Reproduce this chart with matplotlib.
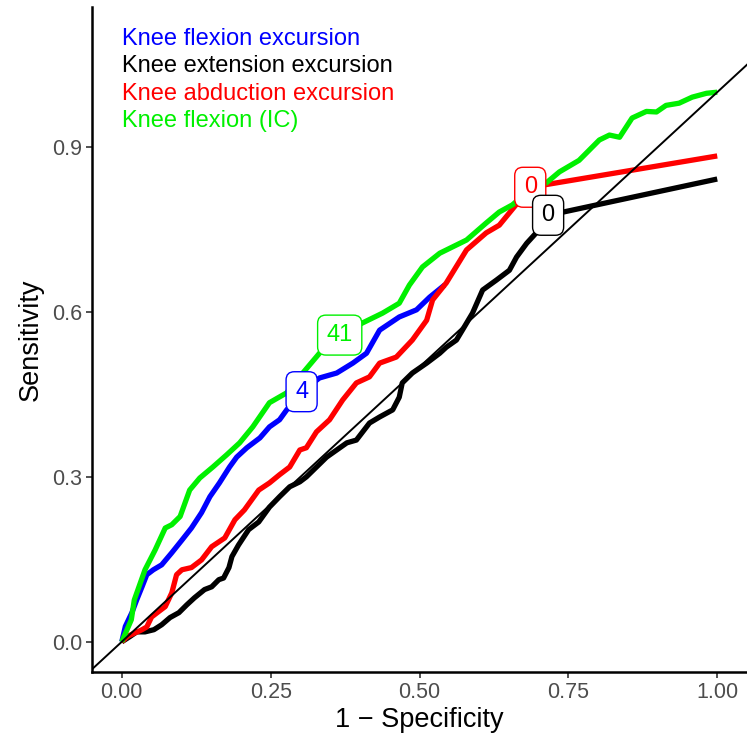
import numpy as np
import matplotlib.pyplot as plt

# ---------------------------------------------------------
# Plot configuration
# ---------------------------------------------------------
plt.rcParams.update({
    'font.family': ['Liberation Sans', 'DejaVu Sans'],
    'axes.linewidth': 1.8,
})

# ROC curves (1 - specificity, sensitivity)
flex_exc_x = [0.0, 0.006, 0.017, 0.025, 0.034, 0.042, 0.053, 0.067, 0.084, 0.101, 0.117,
              0.134, 0.148, 0.164, 0.181, 0.193, 0.210, 0.232, 0.248, 0.265, 0.277, 0.302,
              0.332, 0.361, 0.388, 0.411, 0.433, 0.466, 0.495, 0.517, 0.542]
flex_exc_y = [0.0, 0.028, 0.053, 0.076, 0.100, 0.122, 0.131, 0.140, 0.162, 0.185, 0.207,
              0.235, 0.264, 0.289, 0.318, 0.336, 0.353, 0.371, 0.391, 0.404, 0.422, 0.455,
              0.480, 0.489, 0.507, 0.525, 0.567, 0.591, 0.604, 0.627, 0.649]

ext_exc_x = [0.0, 0.013, 0.025, 0.039, 0.054, 0.067, 0.081, 0.096, 0.109, 0.122, 0.139,
             0.151, 0.163, 0.171, 0.180, 0.185, 0.196, 0.213, 0.230, 0.248, 0.265, 0.282,
             0.299, 0.310, 0.327, 0.344, 0.361, 0.378, 0.394, 0.416, 0.433, 0.455, 0.466,
             0.471, 0.488, 0.512, 0.534, 0.545, 0.562, 0.572, 0.589, 0.606, 0.629, 0.651,
             0.663, 0.680, 0.696, 0.716, 1.0]
ext_exc_y = [0.0, 0.009, 0.018, 0.018, 0.022, 0.031, 0.044, 0.053, 0.067, 0.080, 0.095,
             0.100, 0.113, 0.116, 0.135, 0.155, 0.176, 0.204, 0.218, 0.245, 0.264, 0.282,
             0.291, 0.300, 0.318, 0.336, 0.349, 0.362, 0.367, 0.398, 0.409, 0.422, 0.445,
             0.471, 0.489, 0.507, 0.525, 0.536, 0.549, 0.567, 0.598, 0.640, 0.658, 0.676,
             0.700, 0.725, 0.744, 0.776, 0.842]

abd_exc_x = [0.0, 0.01, 0.022, 0.034, 0.042, 0.050, 0.062, 0.073, 0.084, 0.092, 0.101,
             0.117, 0.134, 0.151, 0.173, 0.190, 0.206, 0.230, 0.248, 0.265, 0.282, 0.299,
             0.310, 0.327, 0.349, 0.371, 0.394, 0.416, 0.433, 0.461, 0.488, 0.512, 0.522,
             0.545, 0.579, 0.612, 0.634, 0.659, 0.686, 1.0]
abd_exc_y = [0.0, 0.01, 0.016, 0.022, 0.027, 0.045, 0.055, 0.064, 0.089, 0.122, 0.131,
             0.135, 0.149, 0.173, 0.189, 0.222, 0.240, 0.276, 0.289, 0.304, 0.318, 0.349,
             0.353, 0.382, 0.404, 0.440, 0.471, 0.482, 0.507, 0.518, 0.549, 0.585, 0.622,
             0.653, 0.713, 0.744, 0.758, 0.791, 0.827, 0.884]

flex_ic_x = [0.0, 0.016, 0.021, 0.039, 0.056, 0.073, 0.084, 0.098, 0.114, 0.131, 0.153,
             0.176, 0.198, 0.220, 0.248, 0.277, 0.304, 0.332, 0.366, 0.404, 0.438, 0.466,
             0.483, 0.505, 0.534, 0.579, 0.612, 0.634, 0.656, 0.685, 0.713, 0.735, 0.768,
             0.802, 0.819, 0.836, 0.857, 0.881, 0.898, 0.914, 0.936, 0.958, 0.982, 1.0]
flex_ic_y = [0.0, 0.040, 0.076, 0.131, 0.167, 0.207, 0.213, 0.228, 0.276, 0.298, 0.318,
             0.340, 0.362, 0.391, 0.435, 0.453, 0.489, 0.525, 0.558, 0.580, 0.598, 0.616,
             0.649, 0.682, 0.707, 0.731, 0.762, 0.782, 0.795, 0.822, 0.835, 0.855, 0.876,
             0.913, 0.922, 0.918, 0.953, 0.965, 0.964, 0.976, 0.980, 0.991, 0.998, 1.0]

names = ['Knee flexion excursion', 'Knee extension excursion',
         'Knee abduction excursion', 'Knee flexion (IC)']
colors = ['#0000FF', '#000000', '#FF0000', '#00F000']

# cutoff labels (position on curve, text)
cut_x = [0.302, 0.716, 0.686, 0.366]
cut_y = [0.455, 0.776, 0.827, 0.558]
cut_txt = ['4', '0', '0', '41']

# ---------------------------------------------------------
# Plotting
# ---------------------------------------------------------
fig = plt.figure(figsize=(7.47, 7.47), dpi=100)
ax = fig.add_axes([92 / 747, 75 / 747, 655 / 747, 665 / 747])

curves = [(flex_exc_x, flex_exc_y), (ext_exc_x, ext_exc_y),
          (abd_exc_x, abd_exc_y), (flex_ic_x, flex_ic_y)]
for (cx, cy), col in zip(curves, colors):
    ax.plot(cx, cy, color=col, lw=3.8, solid_joinstyle='round',
            solid_capstyle='butt', zorder=2)

# reference diagonal
ax.axline((0, 0), slope=1, color='black', lw=1.4, zorder=3)

# cutoff labels (red before black so black sits on top)
for i in [0, 2, 1, 3]:
    ax.text(cut_x[i], cut_y[i], cut_txt[i], color=colors[i], fontsize=17,
            ha='center', va='center', zorder=5,
            bbox=dict(boxstyle='round,pad=0.38,rounding_size=0.35', fc='white',
                      ec=colors[i], lw=1.0))

# legend as text annotations
for k, (nm, col) in enumerate(zip(names, colors)):
    ax.text(0.0, 1.097 - 0.05 * k, nm, color=col, fontsize=17,
            ha='left', va='center', zorder=5)

# Formatting
ax.set_xlim(-0.05, 1.05)
ax.set_ylim(-0.055, 1.155)
ax.set_xticks([0, 0.25, 0.5, 0.75, 1.0])
ax.set_xticklabels(['0.00', '0.25', '0.50', '0.75', '1.00'])
ax.set_yticks([0, 0.3, 0.6, 0.9])
ax.set_yticklabels(['0.0', '0.3', '0.6', '0.9'])
ax.tick_params(labelsize=15.5, labelcolor='#4D4D4D', color='#333333',
               length=4, width=1.2, pad=3)
ax.set_xlabel('1 \u2212 Specificity', fontsize=19.5, labelpad=3)
ax.set_ylabel('Sensitivity', fontsize=19.5, labelpad=6)

ax.spines['top'].set_visible(False)
ax.spines['right'].set_visible(False)

plt.savefig('out.png', dpi=100)
